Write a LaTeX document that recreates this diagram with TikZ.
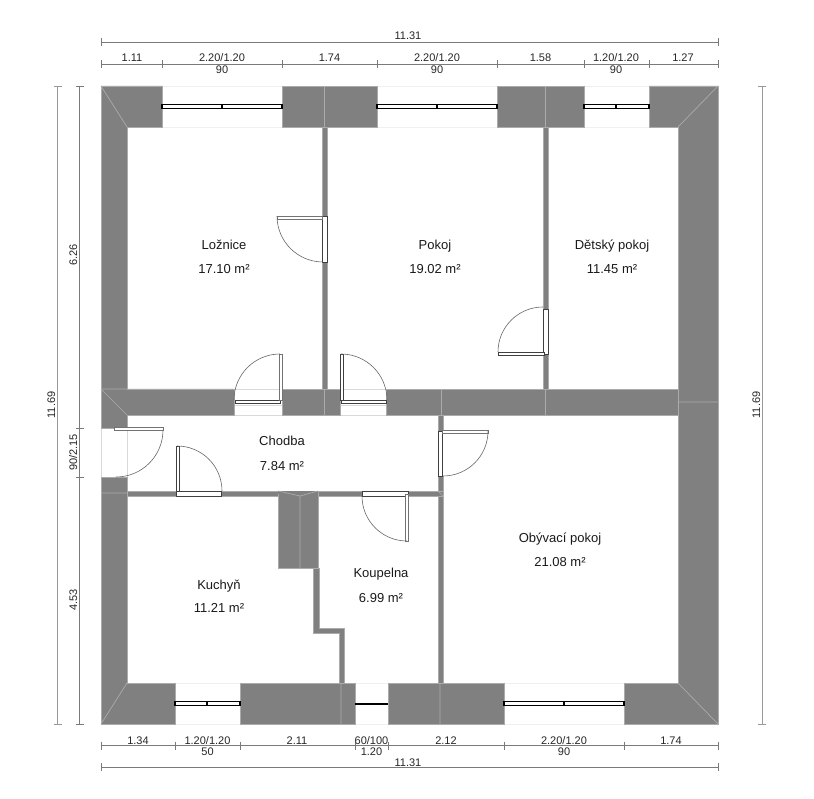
\documentclass[tikz,border=0pt]{standalone}
\usepackage{fontspec}
\setmainfont{Liberation Sans}
\usetikzlibrary{calc,positioning}

\definecolor{wallgray}{HTML}{808080}
\definecolor{walledge}{HTML}{ABABAB}
\definecolor{dimgray}{HTML}{7A7A7A}

\tikzset{
  wall/.style={fill=wallgray,draw=walledge,line width=0.7pt},
  thinwall/.style={fill=wallgray,draw=walledge,line width=0.4pt},
  seam/.style={draw=walledge,line width=0.7pt},
  opening/.style={draw=black!6,line width=0.7pt},
  panel/.style={fill=white,draw=black!75,line width=0.7pt},
  leaf/.style={fill=white,draw=black!55,line width=0.6pt},
  swing/.style={draw=black!60,line width=0.6pt},
  glass/.style={fill=white,draw=black,line width=1.2pt},
  dimline/.style={draw=dimgray,line width=0.8pt},
  dimtext/.style={font=\fontsize{11}{11}\selectfont,inner sep=0pt,text=black!85,anchor=base},
  roomtext/.style={font=\fontsize{13}{13}\selectfont,inner sep=0pt,text=black!90,anchor=base}
}

\begin{document}
\begin{tikzpicture}[x=1pt,y=-1pt]
  \useasboundingbox (0,0) rectangle (814,799);

  % Light edges of the openings
  \foreach \a/\b in {162/282,377/497,584/649} {
    \draw[opening] (\a,86) -- (\b,86) (\a,127) -- (\b,127);
  }
  \foreach \a/\b in {175/240,355/388,504/624} {
    \draw[opening] (\a,683) -- (\b,683) (\a,724) -- (\b,724);
  }
  \draw[draw=black!15,line width=0.7pt] (101,428) -- (101,477) (127,415) -- (127,477);
  \draw[draw=black!15,line width=0.7pt] (234,389) -- (282,389) (234,405) -- (282,405) (234,415) -- (282,415);
  \draw[draw=black!15,line width=0.7pt] (340,389) -- (386,389) (340,405) -- (386,405) (340,415) -- (386,415);

  % Outer walls
  \draw[wall] (101,86) -- (162,86) -- (162,127) -- (127,127) -- (127,389) -- (234,389) -- (234,415) -- (127,415) -- (127,428) -- (101,428) -- cycle;
  \draw[wall] (282,86) rectangle (377,127);
  \draw[wall] (497,86) rectangle (584,127);
  \draw[wall] (649,86) -- (718,86) -- (718,724) -- (624,724) -- (624,683) -- (678,683) -- (678,127) -- (649,127) -- cycle;
  \draw[wall] (101,477) -- (127,477) -- (127,683) -- (175,683) -- (175,724) -- (101,724) -- cycle;
  \draw[wall] (240,683) rectangle (355,724);
  \draw[wall] (388,683) rectangle (504,724);

  % Middle wall
  \draw[wall] (282,389) rectangle (340,415);
  \draw[wall] (386,389) rectangle (678,415);

  % Thin walls
  \foreach \a/\b/\c/\d in {322/127/326.7/216,322/262/326.7/389,543/127/547.7/309,543/354/547.7/389,
    438/415/442.7/431,438/476/442.7/683,127/491/176/496,221/491/362/496,408/491/442.7/496} {
    \draw[thinwall] (\a,\b) rectangle (\c,\d);
  }
  % Chimney and the stepped bathroom wall
  \draw[wall] (278,491) rectangle (318,568);
  \draw[thinwall] (313,568) -- (319,568) -- (319,628) -- (344,628) -- (344,683) -- (339,683) -- (339,633) -- (313,633) -- cycle;
  \fill[wallgray] (278,491) -- (318,491) -- (318,494) -- (300,496) -- (278,494) -- cycle;
  \draw[seam] (278,491) -- (300,496) -- (318,491) (300,496) -- (300,568);

  % Seams between wall parts
  \draw[seam] (101,86) -- (127,127) (718,86) -- (678,127) (718,724) -- (678,683) (127,683) -- (101,724);
  \draw[seam] (101,389) -- (127,415) (101,389) -- (127,389) (101,493) -- (127,493) (678,402) -- (718,402);
  \draw[seam] (324,86) -- (324,127) (545,86) -- (545,127) (324,389) -- (324,415) (441,389) -- (441,415) (545,389) -- (545,415);
  \draw[seam] (341,683) -- (341,724) (440,683) -- (440,724) (438,491) -- (443,496);

  % Windows
  \foreach \a/\b in {162/222,222/282,377/437,437/497,584/616,616/649} {
    \draw[glass] (\a,104.7) rectangle (\b,108.3);
  }
  \foreach \a/\b in {175/207,207/240,504/564,564/624} {
    \draw[glass] (\a,701.7) rectangle (\b,705.3);
  }
  \fill[black] (355,702.5) rectangle (388,704.5);

  % Doors in the thin walls, side hinge
  \draw[panel] (322,216) rectangle (327,262);
  \draw[leaf] (277,216) rectangle (322,219);
  \draw[swing] (277,216) arc[start angle=180,end angle=90,radius=46];
  \draw[panel] (543,309) rectangle (548,354);
  \draw[panel] (498,352) rectangle (544,355);
  \draw[swing] (498,352) arc[start angle=180,end angle=270,radius=45];
  \draw[panel] (438,431) rectangle (442,476);
  \draw[leaf] (442,430) rectangle (488,433);
  \draw[swing] (488,431) arc[start angle=0,end angle=90,radius=45];

  % Doors in the middle wall
  \draw[panel] (235,400) rectangle (280,403);
  \draw[leaf] (279,354) rectangle (282,400);
  \draw[swing] (280,354) arc[start angle=270,end angle=180,radius=46];
  \draw[panel] (341,400) rectangle (386,403);
  \draw[panel] (340,354) rectangle (343,400);
  \draw[swing] (341,354) arc[start angle=270,end angle=360,radius=46];

  % Doors in the corridor
  \draw[leaf] (114,427) rectangle (163,430);
  \draw[swing] (163,430) arc[start angle=0,end angle=90,radius=47];
  \draw[panel] (176,491) rectangle (221,496);
  \draw[panel] (176,446) rectangle (179,491);
  \draw[swing] (177,446) arc[start angle=270,end angle=360,radius=45];
  \draw[panel] (362,491) rectangle (408,496);
  \draw[leaf] (405,494) rectangle (408,541);
  \draw[swing] (362,496) arc[start angle=180,end angle=90,radius=45];

  % Rooms
  \foreach \nm/\x/\ya/\yb/\t/\a in {loznice/224/250/274/Ložnice/17.10,pokoj/435/250/274/Pokoj/19.02,
    detsky/612/250/274/Dětský pokoj/11.45,chodba/282/446/470/Chodba/7.84,obyvaci/560/542/566/Obývací pokoj/21.08,
    kuchyn/219/589/612/Kuchyň/11.21,koupelna/381/577/602/Koupelna/6.99} {
    \node[roomtext] (name\nm) at (\x,\ya) {\t};
    \node[roomtext] (area\nm) at (\x,\yb) {\a\ m²};
  }

  % Dimensions top
  \draw[dimline] (101,38.5) -- (101,46.5) (101,42.5) -- (718,42.5) (718,38.5) -- (718,46.5);
  \node[dimtext] (topall) at (408,39.5) {11.31};
  \draw[dimline] (101,64) -- (718,64);
  \foreach \x in {101,162,282,377,497,584,649,718} {
    \draw[dimline] (\x,60) -- (\x,68);
  }
  \foreach \nm/\x/\t in {a/132/1.11,b/222/2.20\slash 1.20,c/329.5/1.74,d/437/2.20\slash 1.20,e/540.5/1.58,f/616/1.20\slash 1.20,g/683/1.27} {
    \node[dimtext] (top\nm) at (\x,62) {\t};
  }
  \foreach \nm/\x in {b/222,d/437,f/616} {
    \node[dimtext] (sill\nm) at (\x,74) {90};
  }

  % Dimensions bottom
  \draw[dimline] (101,745.5) -- (718,745.5);
  \foreach \x in {101,175,240,355,388,504,624,718} {
    \draw[dimline] (\x,741.5) -- (\x,749.5);
  }
  \foreach \nm/\x/\t in {a/138/1.34,b/207.5/1.20\slash 1.20,c/297/2.11,d/371.5/60\slash 100,e/446/2.12,f/564/2.20\slash 1.20,g/671/1.74} {
    \node[dimtext] (bot\nm) at (\x,744) {\t};
  }
  \foreach \nm/\x/\t in {b/207.5/50,d/371.5/1.20,f/564/90} {
    \node[dimtext] (under\nm) at (\x,755) {\t};
  }
  \draw[dimline] (101,763) -- (101,771) (101,767) -- (718,767) (718,763) -- (718,771);
  \node[dimtext] (botall) at (408,766) {11.31};

  % Dimensions left and right
  \draw[dimline,draw=black!40] (53.5,86) -- (61.5,86) (57.5,86) -- (57.5,724) (53.5,724) -- (61.5,724);
  \node[dimtext,rotate=90] (leftall) at (55,405) {11.69};
  \draw[dimline] (79.5,86) -- (79.5,724);
  \foreach \y in {86,428,477,724} {
    \draw[dimline] (75.5,\y) -- (83.5,\y);
  }
  \foreach \nm/\y/\t in {a/255/6.26,b/452.5/90\slash 2.15,c/600/4.53} {
    \node[dimtext,rotate=90] (left\nm) at (77,\y) {\t};
  }
  \draw[dimline,draw=black!40] (758,86) -- (766,86) (762,86) -- (762,724) (758,724) -- (766,724);
  \node[dimtext,rotate=90] (rightall) at (760,405) {11.69};
\end{tikzpicture}
\end{document}
